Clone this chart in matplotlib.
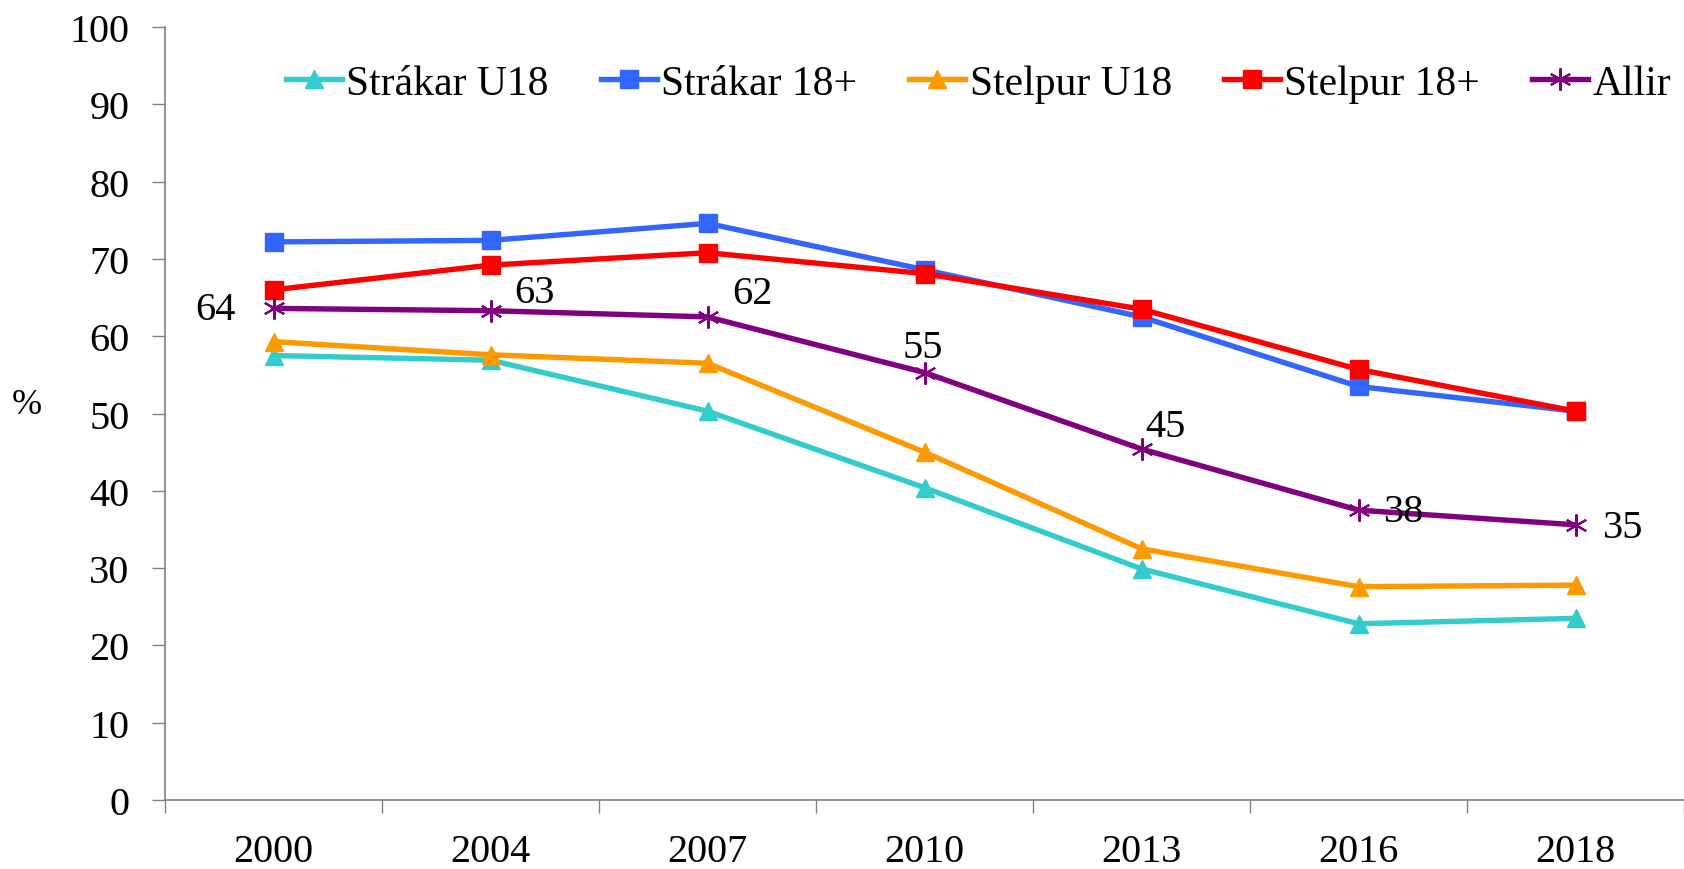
import numpy as np
import matplotlib
matplotlib.use('Agg')
import matplotlib.pyplot as plt

plt.rcParams['font.family'] = ['Liberation Serif', 'DejaVu Serif']

years = ['2000', '2004', '2007', '2010', '2013', '2016', '2018']

strakar_u18 = [57.5, 56.9, 50.3, 40.4, 29.9, 22.8, 23.5]
strakar_18 = [72.2, 72.4, 74.6, 68.6, 62.5, 53.5, 50.3]
stelpur_u18 = [59.3, 57.6, 56.5, 45.0, 32.5, 27.6, 27.8]
stelpur_18 = [66.0, 69.2, 70.8, 68.1, 63.5, 55.7, 50.3]
allir = [63.6, 63.3, 62.5, 55.3, 45.4, 37.5, 35.6]
allir_labels = ['64', '63', '62', '55', '45', '38', '35']

x = np.arange(len(years))

fig = plt.figure(figsize=(16.84, 8.70), dpi=100)
ax = fig.add_axes([0.098, 0.0793, 0.902, 0.8885])

lw = 3.9
ax.plot(x, strakar_u18, color='#33CCCC', lw=lw, marker='^', ms=13, label='Strákar U18')
ax.plot(x, strakar_18, color='#3366FF', lw=lw, marker='s', ms=13, label='Strákar 18+')
ax.plot(x, stelpur_u18, color='#FF9900', lw=lw, marker='^', ms=13, label='Stelpur U18')
ax.plot(x, stelpur_18, color='#FF0000', lw=lw, marker='s', ms=13, label='Stelpur 18+')
ax.plot(x, allir, color='#800080', lw=lw, marker=(6, 2, 0), ms=16, mew=1.5, label='Allir')

# data labels for Allir
offsets = [(-42, -1), (32, 13), (32, 17), (-1, 18), (17, 16), (33, -1), (34, -2)]
for i, lab in enumerate(allir_labels):
    ax.annotate(lab, (x[i], allir[i]), xytext=offsets[i], textcoords='offset points',
                ha='center', va='center', fontsize=29)

ax.set_xlim(-0.5, 6.5)
ax.set_ylim(0, 100)
ax.set_yticks(np.arange(0, 101, 10))
ax.set_xticks(x)
ax.set_xticklabels(years, fontsize=29)
ax.set_xticks(np.arange(-0.5, 7, 1), minor=True)
ax.tick_params(axis='x', which='major', length=0, pad=24)
ax.tick_params(axis='x', which='minor', length=9.5, width=1, color='#808080', direction='out')
ax.tick_params(axis='y', length=9.5, width=1, color='#808080', labelsize=29, pad=16)

for s in ['top', 'right']:
    ax.spines[s].set_visible(False)
for s in ['left', 'bottom']:
    ax.spines[s].set_color('#808080')
    ax.spines[s].set_linewidth(1.2)

fig.text(0.016, 0.534, '%', fontsize=26, ha='center', va='center')

fig.legend(loc='center', bbox_to_anchor=(0.581, 0.903), ncol=5, frameon=False,
           fontsize=30, handlelength=1.35, handletextpad=0.1, columnspacing=1.25)

fig.savefig('out.png', dpi=100)
